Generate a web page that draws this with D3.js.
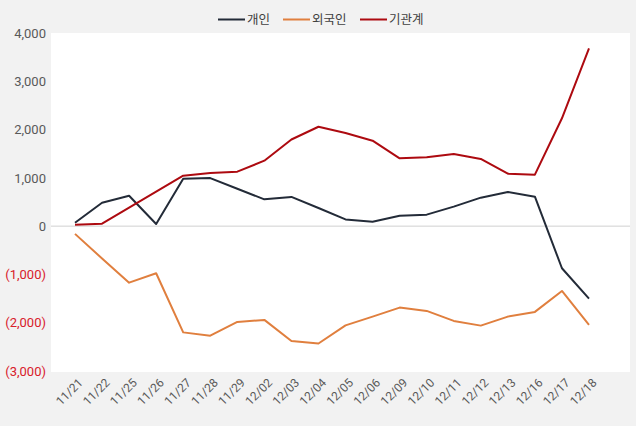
<!DOCTYPE html>
<html>
<head>
<meta charset="utf-8">
<script src="https://cdn.jsdelivr.net/npm/d3@7"></script>
<style>
  body { margin: 0; background: #f2f2f2; }
  svg { display: block; font-family: "Noto Sans CJK KR", Roboto, sans-serif; }
</style>
</head>
<body>
<div id="chart"></div>
<script>
const dates = ["11/21","11/22","11/25","11/26","11/27","11/28","11/29","12/02","12/03","12/04",
               "12/05","12/06","12/09","12/10","12/11","12/12","12/13","12/16","12/17","12/18"]
const individual = [70, 485, 630, 45, 980, 995, 775, 555, 605, 375,
                    140, 90, 217, 238, 404, 590, 708, 611, -872, -1500]
const foreign = [-160, -670, -1170, -975, -2200, -2268, -1983, -1942, -2377, -2430,
                 -2055, -1873, -1687, -1756, -1963, -2060, -1873, -1776, -1342, -2045]
const institution = [31, 52, 384, 713, 1046, 1101, 1129, 1356, 1795, 2058,
                     1930, 1770, 1405, 1426, 1495, 1391, 1087, 1066, 2234, 3680]
const yTicks = [4000, 3000, 2000, 1000, 0, -1000, -2000, -3000]

const series = [
    {name: "개인", values: individual, color: "#232b38"},
    {name: "외국인", values: foreign, color: "#e07f3e"},
    {name: "기관계", values: institution, color: "#ad0a10"}
]

const width = 636, height = 426
const svg = d3.select("#chart").append("svg")
    .attr("width", width)
    .attr("height", height)

// white plot area
svg.append("rect")
    .attr("x", 51).attr("y", 33)
    .attr("width", 579).attr("height", 339)
    .attr("fill", "#ffffff")

var xScale = d3.scalePoint()
    .domain(dates)
    .range([75, 589])

var yScale = d3.scaleLinear()
    .domain([-3000, 4000])
    .range([371, 33])

// zero line
svg.append("line")
    .attr("x1", 51).attr("x2", 630)
    .attr("y1", yScale(0)).attr("y2", yScale(0))
    .attr("stroke", "#d0d0d0")
    .attr("stroke-width", 1)

// y axis labels
const fmt = d3.format(",")
var yAxis = svg.append("g")
    .attr("transform", "translate(46,0)")
    .call(d3.axisLeft(yScale).tickValues(yTicks).tickSize(0)
        .tickFormat(d => d < 0 ? "(" + fmt(-d) + ")" : fmt(d)))
yAxis.select(".domain").remove()
yAxis.selectAll("text")
    .attr("x", 0)
    .attr("font-size", 13)
    .attr("font-family", "Roboto, sans-serif")
    .attr("fill", d => d < 0 ? "#d8202a" : "#595959")

// x axis labels
var xAxis = svg.append("g")
    .attr("transform", "translate(0,372)")
    .call(d3.axisBottom(xScale).tickSize(0))
xAxis.select(".domain").remove()
xAxis.selectAll("text")
    .attr("font-size", 12)
    .attr("font-family", "Roboto, sans-serif")
    .attr("fill", "#595959")
    .style("text-anchor", "end")
    .attr("dx", "-0.2em")
    .attr("dy", "0.9em")
    .attr("transform", "rotate(-45)")

var line = d3.line()
    .x((d, i) => xScale(dates[i]))
    .y(d => yScale(d))

svg.selectAll(".series").data(series).enter()
    .append("path")
    .attr("class", "series")
    .attr("d", d => line(d.values))
    .attr("fill", "none")
    .attr("stroke", d => d.color)
    .attr("stroke-width", 2)
    .attr("stroke-linejoin", "round")

// legend
const legendX = [218, 283, 360]
var legend = svg.selectAll(".legend").data(series).enter()
    .append("g")
    .attr("class", "legend")
    .attr("transform", (d, i) => "translate(" + legendX[i] + ",19.5)")
legend.append("line")
    .attr("x1", 0).attr("x2", 27)
    .attr("stroke", d => d.color)
    .attr("stroke-width", 2)
legend.append("text")
    .attr("x", 29)
    .attr("dy", "0.35em")
    .attr("font-size", 12.5)
    .attr("fill", "#404040")
    .text(d => d.name)
</script>
</body>
</html>
